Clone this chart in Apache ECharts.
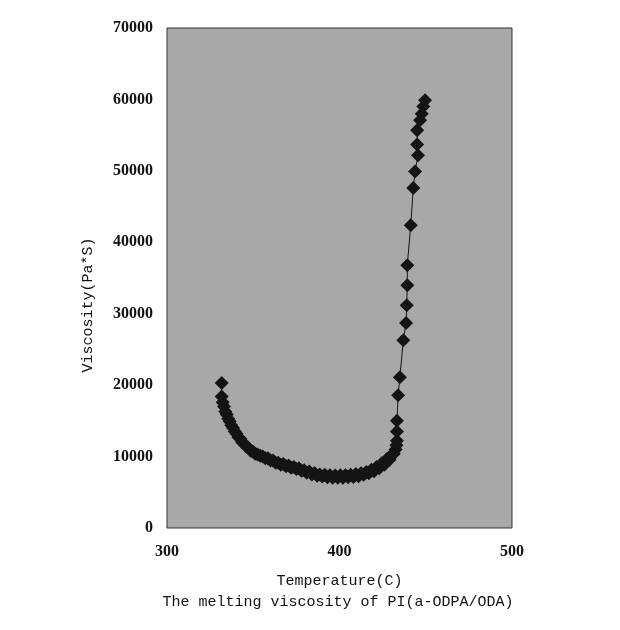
<!DOCTYPE html>
<html>
<head>
<meta charset="utf-8">
<script src="https://cdn.jsdelivr.net/npm/echarts@6/dist/echarts.min.js"></script>
<style>
  html, body { margin: 0; padding: 0; background: #fff; }
  #main { width: 620px; height: 630px; }
</style>
</head>
<body>
<div id="main"></div>
<script>
// temperature (C) (the low part is a dense, scattered band)
var temps = [
  331.7, 331.7, 332.3, 333.0, 333.8, 334.6, 335.5, 336.4, 337.3, 338.3,
  339.3, 340.3, 341.4, 342.5, 343.6, 344.8, 346.0, 347.2, 348.5, 349.8,
  351.1, 352.5, 354.0, 355.5, 357.0, 358.5, 360.0, 361.5, 363.0, 364.5,
  366.0, 367.5, 369.0, 370.5, 372.0, 373.5, 375.0, 376.5, 378.0, 379.5,
  381.0, 382.5, 384.0, 385.5, 387.0, 388.5, 390.0, 391.5, 393.0, 394.5,
  396.0, 397.5, 399.0, 400.5, 402.0, 403.5, 405.0, 406.5, 408.0, 409.5,
  411.0, 412.5, 414.0, 415.5, 417.0, 418.5, 420.0, 421.5, 423.0, 424.5,
  426.0, 427.5, 429.0, 430.5, 431.5, 432.5, 433.0, 433.3,
  433.3, 433.3, 434.0, 435.0, 437.0, 438.6, 439.0, 439.3, 439.3, 441.3,
  442.8, 443.8, 445.5, 445.0, 445.0, 446.7, 447.7, 448.6, 449.6
];
// viscosity (Pa*S)
var viscosity = [
  20300, 18400, 17600, 17000, 16300, 15900, 15300, 14900, 14400, 14000,
  13500, 13200, 12700, 12500, 12000, 11800, 11400, 11200, 10800, 10700,
  10400, 10300, 10100, 10000, 9750, 9750, 9450, 9450, 9150, 9150,
  8850, 8950, 8650, 8750, 8450, 8550, 8250, 8350, 8000, 8100,
  7750, 7900, 7500, 7700, 7300, 7500, 7200, 7450, 7100, 7400,
  7050, 7350, 7050, 7400, 7050, 7400, 7100, 7450, 7150, 7550,
  7250, 7650, 7450, 7850, 7650, 8150, 7950, 8550, 8350, 9050,
  8850, 9650, 9550, 10300, 10400, 11000, 11600, 12200,
  13500, 15000, 18600, 21100, 26300, 28700, 31200, 34000, 36800, 42400,
  47600, 49900, 52200, 53700, 55700, 57100, 58000, 59000, 59900
];
var xTicks = [300, 400, 500];
var yTicks = [0, 10000, 20000, 30000, 40000, 50000, 60000, 70000];

var points = temps.map(function (t, i) { return [t, viscosity[i]]; });

var chart = echarts.init(document.getElementById('main'));
chart.setOption({
  animation: false,
  backgroundColor: '#ffffff',
  grid: {
    left: 167, right: 108, top: 28, bottom: 102,
    show: true,
    backgroundColor: '#a8a8a8',
    borderColor: '#333',
    borderWidth: 1
  },
  xAxis: {
    type: 'value',
    min: xTicks[0], max: xTicks[xTicks.length - 1], interval: 100,
    axisLine: { show: false },
    axisTick: { show: false },
    splitLine: { show: false },
    axisLabel: {
      margin: 16,
      color: '#111',
      fontFamily: 'Liberation Serif',
      fontWeight: 'bold',
      fontSize: 16
    },
    name: 'Temperature(C)',
    nameLocation: 'middle',
    nameGap: 46,
    nameTextStyle: { color: '#111', fontFamily: 'Liberation Mono', fontSize: 15 }
  },
  yAxis: {
    type: 'value',
    min: yTicks[0], max: yTicks[yTicks.length - 1], interval: 10000,
    axisLine: { show: false },
    axisTick: { show: false },
    splitLine: { show: false },
    axisLabel: {
      margin: 14,
      color: '#111',
      fontFamily: 'Liberation Serif',
      fontWeight: 'bold',
      fontSize: 16,
      formatter: function (v) { return String(v); }
    }
  },
  graphic: [
    {
      type: 'text',
      x: 88, y: 305,
      rotation: Math.PI / 2,
      style: {
        text: 'Viscosity(Pa*S)',
        fill: '#111',
        font: '15px "Liberation Mono"',
        align: 'center',
        verticalAlign: 'middle'
      }
    },
    {
      type: 'text',
      x: 338, y: 602,
      style: {
        text: 'The melting viscosity of PI(a-ODPA/ODA)',
        fill: '#111',
        font: '15px "Liberation Mono"',
        align: 'center',
        verticalAlign: 'middle'
      }
    }
  ],
  series: [{
    type: 'line',
    data: points,
    symbol: 'diamond',
    symbolSize: 14,
    showAllSymbol: true,
    itemStyle: { color: '#141414' },
    lineStyle: { color: '#141414', width: 1 }
  }]
});
</script>
</body>
</html>
